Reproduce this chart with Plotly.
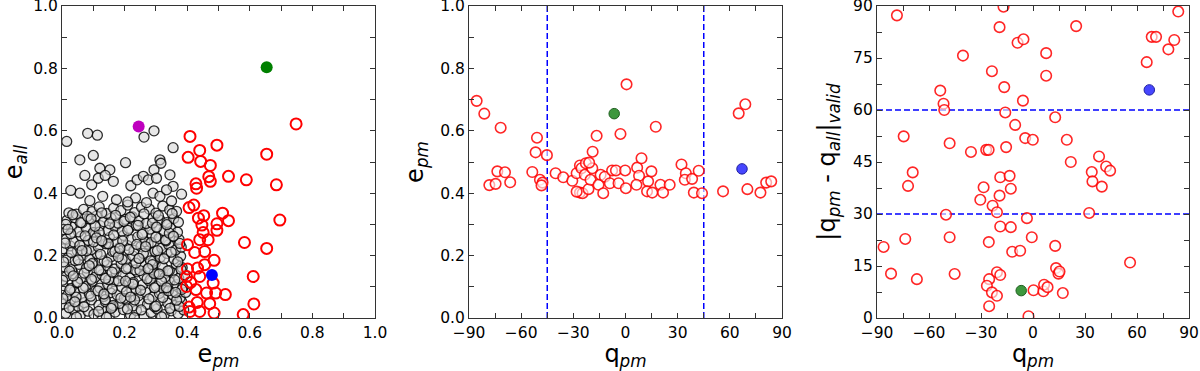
import plotly.graph_objects as go

# ---------------- Panel 1: e_all vs e_pm ----------------
# black (gray-faced) population: e_pm, e_all
blk_epm = [
    0.012,0.035,0.058,0.083,0.102,0.127,0.151,0.170,0.196,0.219,0.238,0.262,0.285,0.304,0.327,0.349,0.371,0.389,0.046,0.142,0.231,0.318,
    0.006,0.027,0.051,0.072,0.094,0.118,0.139,0.161,0.185,0.207,0.228,0.249,0.273,0.296,0.315,0.338,0.361,0.382,
    0.017,0.039,0.063,0.087,0.108,0.133,0.155,0.176,0.199,0.223,0.244,0.267,0.290,0.311,0.333,0.355,0.377,0.395,
    0.004,0.029,0.048,0.075,0.097,0.121,0.146,0.166,0.191,0.213,0.236,0.257,0.279,0.301,0.324,0.344,0.367,0.386,
    0.013,0.036,0.059,0.081,0.105,0.128,0.149,0.173,0.194,0.217,0.240,0.262,0.283,0.307,0.329,0.352,0.373,0.392,
    0.008,0.031,0.054,0.078,0.099,0.124,0.144,0.168,0.189,0.211,0.234,0.255,0.277,0.299,0.321,0.343,0.365,0.384,
    0.019,0.042,0.066,0.089,0.112,0.135,0.158,0.180,0.203,0.226,0.247,0.270,0.292,0.314,0.336,0.358,0.379,
    0.005,0.026,0.049,0.071,0.093,0.116,0.140,0.162,0.184,0.208,0.230,0.252,0.275,0.297,0.319,0.341,0.363,0.381,
    0.014,0.037,0.061,0.084,0.106,0.130,0.152,0.175,0.197,0.220,0.242,0.265,0.287,0.310,0.332,0.354,0.374,
    0.007,0.030,0.053,0.077,0.100,0.122,0.147,0.169,0.192,0.214,0.237,0.259,0.281,0.304,0.326,0.347,0.369,
    0.016,0.040,0.064,0.086,0.110,0.133,0.157,0.179,0.202,0.224,0.246,0.269,0.291,0.313,0.335,0.357,
    0.022,0.046,0.069,0.096,0.119,0.143,0.165,0.188,0.210,0.232,0.254,0.279,0.300,0.322,0.344,0.366,
    0.089,0.174,0.291,0.313,0.382,0.057,0.130,0.235,0.270,0.350,0.210,
    0.015,0.082,0.113,0.262,0.294,0.355,0.057,0.100,0.203,0.153,0.121,0.313,0.316,0.028,0.095,
    0.073,0.116,0.138,0.164,0.220,0.240,0.260,0.276,0.294,0.302,0.345,0.355,0.334,
    0.023,0.070,0.117,0.163,0.209,0.253,0.300,0.345,0.375,
    0.003,0.045,0.092,0.138,0.188,0.232,0.278,0.322,0.366,
    0.025,0.068,0.115,0.160,0.206,0.251,0.296,0.340,0.383,
    0.002,0.050,0.094,0.139,0.181,0.228,0.272,0.318,0.360,
    0.024,0.071,0.118,0.160,0.205,0.249,0.294,0.338,0.380,
    0.005,0.052,0.096,0.144,0.192,0.236,0.283,0.326,0.370,
    0.030,0.078,0.123,0.169,0.214,0.260,0.305,0.349,
    0.010,0.057,0.101,0.148,0.194,0.239,0.285,0.331,0.376,
    0.028,0.074,0.119,0.165,0.210,0.256,0.300,0.343,
    0.012,0.060,0.106,0.152,0.198,0.243,0.289,0.335,0.372,
    0.034,0.081,0.127,0.171,0.218,0.262,0.308,0.352,
    0.041,0.134,0.226,0.311,0.087,0.180,0.267,0.356,0.019,0.110,0.203,0.289,
    0.064,0.157,0.246,0.334,0.036,0.127,0.219,0.302,0.093,0.185,0.275,0.363,
]
blk_eall = [
    0.015,0.028,0.008,0.022,0.012,0.030,0.006,0.019,0.027,0.010,0.024,0.005,0.018,0.029,0.011,0.023,0.014,0.026,0.003,0.002,0.001,0.004,
    0.045,0.055,0.038,0.049,0.058,0.041,0.052,0.035,0.047,0.057,0.039,0.051,0.044,0.036,0.056,0.048,0.040,0.053,
    0.072,0.085,0.066,0.078,0.088,0.069,0.081,0.074,0.063,0.087,0.071,0.083,0.067,0.079,0.089,0.073,0.064,0.082,
    0.104,0.095,0.113,0.101,0.118,0.096,0.108,0.117,0.099,0.112,0.093,0.106,0.119,0.102,0.094,0.115,0.107,0.098,
    0.133,0.142,0.126,0.147,0.130,0.139,0.123,0.145,0.135,0.128,0.148,0.137,0.124,0.141,0.131,0.146,0.127,0.138,
    0.164,0.155,0.172,0.160,0.177,0.153,0.168,0.157,0.175,0.162,0.154,0.171,0.159,0.176,0.165,0.152,0.173,0.161,
    0.192,0.184,0.201,0.188,0.206,0.183,0.197,0.208,0.186,0.199,0.191,0.204,0.182,0.195,0.207,0.189,0.198,
    0.222,0.231,0.215,0.236,0.219,0.228,0.238,0.213,0.226,0.233,0.217,0.229,0.237,0.214,0.224,0.235,0.218,0.227,
    0.253,0.244,0.262,0.249,0.267,0.246,0.258,0.243,0.265,0.251,0.260,0.245,0.268,0.255,0.247,0.263,0.252,
    0.283,0.292,0.276,0.289,0.274,0.296,0.281,0.293,0.278,0.287,0.297,0.273,0.285,0.291,0.279,0.288,0.275,
    0.313,0.322,0.305,0.318,0.327,0.309,0.320,0.304,0.316,0.325,0.311,0.303,0.321,0.314,0.306,0.319,
    0.337,0.333,0.348,0.341,0.356,0.335,0.352,0.344,0.362,0.338,0.355,0.349,0.336,0.359,0.346,0.342,
    0.376,0.379,0.400,0.390,0.397,0.400,0.390,0.385,0.370,0.375,0.372,
    0.566,0.592,0.586,0.580,0.600,0.546,0.507,0.521,0.498,0.475,0.480,0.507,0.496,0.409,0.427,
    0.457,0.448,0.457,0.438,0.424,0.443,0.454,0.443,0.475,0.448,0.459,0.422,0.411,
    0.033,0.036,0.021,0.040,0.029,0.026,0.038,0.031,0.037,
    0.062,0.067,0.070,0.059,0.064,0.058,0.061,0.066,0.057,
    0.090,0.096,0.087,0.093,0.084,0.089,0.097,0.087,0.092,
    0.121,0.115,0.124,0.127,0.119,0.114,0.126,0.118,0.122,
    0.150,0.144,0.154,0.147,0.158,0.152,0.143,0.151,0.156,
    0.180,0.186,0.174,0.179,0.188,0.176,0.183,0.190,0.180,
    0.210,0.215,0.204,0.213,0.219,0.207,0.216,0.211,
    0.240,0.233,0.244,0.238,0.247,0.236,0.242,0.250,0.239,
    0.270,0.263,0.275,0.266,0.281,0.268,0.259,0.272,
    0.300,0.306,0.294,0.302,0.310,0.297,0.304,0.299,0.307,
    0.331,0.326,0.337,0.329,0.323,0.334,0.328,0.335,
    0.052,0.077,0.109,0.141,0.168,0.196,0.229,0.262,0.284,0.257,0.118,0.171,
    0.216,0.031,0.191,0.097,0.135,0.248,0.067,0.291,0.318,0.223,0.158,0.082,
]

# red selected population: e_pm, e_all
red_epm = [0.409,0.403,0.440,0.443,0.495,0.474,0.469,0.474,0.428,0.430,
           0.532,0.589,0.654,0.685,0.748,0.696,0.654,0.583,0.611,0.613,
           0.579,0.513,0.532,0.495,0.495,0.453,0.421,0.406,0.436,0.447,
           0.451,0.467,0.440,0.401,0.424,0.456,0.486,0.456,0.401,0.433,
           0.411,0.440,0.483,0.522,0.491,0.462,0.428,0.398,0.432,0.406,
           0.472,0.486,0.409,0.440,0.398]
red_eall = [0.582,0.515,0.537,0.502,0.554,0.489,0.453,0.438,0.430,0.416,
            0.454,0.443,0.525,0.427,0.622,0.314,0.223,0.242,0.133,0.045,
            0.011,0.336,0.312,0.302,0.281,0.328,0.362,0.354,0.320,0.298,
            0.274,0.251,0.251,0.235,0.210,0.213,0.185,0.171,0.157,0.160,
            0.114,0.133,0.112,0.075,0.080,0.080,0.091,0.101,0.050,0.035,
            0.046,0.016,0.021,0.021,0.133]

# special objects (magenta, green, blue)
mag_epm, mag_eall = [0.245], [0.614]
grn_epm, grn_eall = [0.654], [0.804]
blu_epm, blu_eall = [0.479], [0.138]

# ---------------- Panel 2: e_pm vs q_pm ----------------
mid_q = [-85.6,-81.2,-71.8,-78.3,-74.7,-73.7,-69.3,-66.3,-50.9,-51.7,
         -45.2,-53.6,-49.2,-47.7,-48.3,-40.2,-35.8,-30.6,-28.1,-26.2,
         -25.3,-22.8,-26.2,-24.7,-23.4,-21.3,-20.1,-19.1,-18.9,-16.6,
         -15.5,-14.3,-12.8,-11.9,-9.0,-7.7,-5.5,-4.0,-2.9,-0.2,
         0.2,0.6,6.7,7.8,6.3,9.2,13.0,14.9,12.4,15.4,
         17.4,20.1,21.6,25.4,32.2,34.7,34.1,38.3,39.3,42.1,
         44.0,56.1,65.1,68.9,70.1,77.6,80.9,83.8,-28.1,-20.9]
mid_e = [0.696,0.655,0.610,0.426,0.430,0.470,0.467,0.435,0.578,0.531,
         0.522,0.468,0.443,0.434,0.425,0.464,0.451,0.440,0.464,0.489,
         0.480,0.496,0.402,0.400,0.459,0.413,0.443,0.480,0.533,0.584,
         0.427,0.459,0.400,0.453,0.432,0.473,0.473,0.432,0.590,0.473,
         0.416,0.749,0.482,0.456,0.427,0.512,0.438,0.470,0.406,0.402,
         0.613,0.427,0.402,0.427,0.492,0.464,0.443,0.446,0.402,0.472,
         0.400,0.406,0.656,0.685,0.413,0.402,0.434,0.438,0.405,0.498]
mid_grn_q, mid_grn_e = [-6.5], [0.655]
mid_blu_q, mid_blu_e = [67.0], [0.478]
q_limits = [-45, 45]

# ---------------- Panel 3: |q_pm - q_all|_valid vs q_pm ----------------
rt_q = [-78.5,-86.2,-81.9,-74.6,-69.4,-72.1,-73.7,-67.0,-53.5,-51.6,
        -51.2,-50.2,-48.1,-48.1,-45.2,-40.4,-35.8,-30.4,-28.5,-27.0,
        -25.6,-25.5,-25.3,-26.6,-25.3,-23.7,-23.3,-23.7,-20.8,-20.8,
        -20.8,-18.9,-18.9,-19.3,-18.9,-19.3,-17.0,-16.6,-16.0,-15.5,
        -13.5,-12.8,-12.8,-12.0,-10.3,-8.9,-7.4,-5.8,-5.5,-4.5,
        -3.5,-2.6,-0.1,-0.7,0.3,6.0,6.4,8.4,7.6,7.6,
        12.8,13.3,14.7,15.3,12.8,17.2,19.5,21.8,24.9,32.4,
        33.9,34.3,38.1,39.7,42.2,44.5,56.0,65.6,68.5,71.0,
        78.1,81.5,83.8]
rt_d = [87.3,20.5,12.8,52.4,42.0,38.1,22.8,11.2,65.6,61.8,
        60.0,29.8,50.4,23.3,12.7,75.7,47.9,34.1,37.7,48.5,
        48.5,21.9,11.2,9.3,3.4,71.2,32.4,7.4,30.5,6.4,
        13.2,12.4,26.4,35.3,40.6,83.9,89.8,66.6,59.3,49.3,
        41.0,37.3,26.2,19.1,55.7,79.4,19.4,62.7,80.4,51.9,
        28.8,0.5,51.4,23.3,8.0,7.7,9.6,8.9,76.4,69.9,
        20.8,14.4,12.8,13.4,57.9,7.2,51.4,45.0,84.2,30.3,
        42.1,39.4,46.6,37.9,43.7,42.5,16.0,73.8,81.1,81.1,
        77.5,80.2,88.4]
rt_grn_q, rt_grn_d = [-6.8], [7.9]
rt_blu_q, rt_blu_d = [67.1], [65.8]
d_limits = [30, 60]

FONT = "DejaVu Sans"
AXC = "#333333"

fig = go.Figure()

# panel 1
fig.add_trace(go.Scatter(x=blk_epm, y=blk_eall, mode="markers", xaxis="x", yaxis="y",
    marker=dict(symbol="circle", size=10, color="rgba(215,215,215,0.6)",
                line=dict(color="rgba(0,0,0,0.82)", width=1.3)), showlegend=False))
fig.add_trace(go.Scatter(x=red_epm, y=red_eall, mode="markers", xaxis="x", yaxis="y",
    marker=dict(symbol="circle-open", size=11, color="red", line=dict(width=2)), showlegend=False))
fig.add_trace(go.Scatter(x=mag_epm, y=mag_eall, mode="markers", xaxis="x", yaxis="y",
    marker=dict(symbol="circle", size=12, color="#bf00bf"), showlegend=False))
fig.add_trace(go.Scatter(x=grn_epm, y=grn_eall, mode="markers", xaxis="x", yaxis="y",
    marker=dict(symbol="circle", size=12, color="#008000"), showlegend=False))
fig.add_trace(go.Scatter(x=blu_epm, y=blu_eall, mode="markers", xaxis="x", yaxis="y",
    marker=dict(symbol="circle", size=12, color="#0000ff"), showlegend=False))

# panel 2
fig.add_trace(go.Scatter(x=mid_q, y=mid_e, mode="markers", xaxis="x2", yaxis="y2",
    marker=dict(symbol="circle", size=10.5, color="rgba(255,255,255,0.6)",
                line=dict(color="rgba(255,0,0,0.85)", width=1.6)), showlegend=False))
fig.add_trace(go.Scatter(x=mid_grn_q, y=mid_grn_e, mode="markers", xaxis="x2", yaxis="y2",
    marker=dict(symbol="circle", size=10.5, color="rgba(40,140,40,0.9)",
                line=dict(color="#1f5f1f", width=1)), showlegend=False))
fig.add_trace(go.Scatter(x=mid_blu_q, y=mid_blu_e, mode="markers", xaxis="x2", yaxis="y2",
    marker=dict(symbol="circle", size=10.5, color="rgba(50,50,255,0.9)",
                line=dict(color="#2020a0", width=1)), showlegend=False))

# panel 3
fig.add_trace(go.Scatter(x=rt_q, y=rt_d, mode="markers", xaxis="x3", yaxis="y3",
    marker=dict(symbol="circle", size=10.5, color="rgba(255,255,255,0.6)",
                line=dict(color="rgba(255,0,0,0.85)", width=1.6)), showlegend=False))
fig.add_trace(go.Scatter(x=rt_grn_q, y=rt_grn_d, mode="markers", xaxis="x3", yaxis="y3",
    marker=dict(symbol="circle", size=10.5, color="rgba(40,140,40,0.9)",
                line=dict(color="#1f5f1f", width=1)), showlegend=False))
fig.add_trace(go.Scatter(x=rt_blu_q, y=rt_blu_d, mode="markers", xaxis="x3", yaxis="y3",
    marker=dict(symbol="circle", size=10.5, color="rgba(50,50,255,0.9)",
                line=dict(color="#2020a0", width=1)), showlegend=False))

shapes = []
for v in q_limits:
    shapes.append(dict(type="line", xref="x2", yref="y2 domain", x0=v, x1=v, y0=0, y1=1,
                       line=dict(color="blue", width=1.5, dash="6px,3px"), layer="below"))
for v in d_limits:
    shapes.append(dict(type="line", xref="x3 domain", yref="y3", x0=0, x1=1, y0=v, y1=v,
                       line=dict(color="blue", width=1.5, dash="6px,3px"), layer="below"))


def axis(domain, rng, dtick, mdtick, title, anchor, standoff, fmt=None, tick0=None):
    d = dict(domain=domain, range=rng, anchor=anchor, showline=True, mirror="allticks",
             linecolor=AXC, linewidth=1.2, ticks="inside", ticklen=5, tickwidth=1,
             tickcolor=AXC, dtick=dtick, showgrid=False, zeroline=False,
             ticklabeloverflow="allow",
             tickfont=dict(family=FONT, size=15.5, color="black"),
             minor=dict(dtick=mdtick, ticks="inside", ticklen=5, tickwidth=1, tickcolor=AXC, showgrid=False),
             title=dict(text=title, font=dict(family=FONT, size=24, color="black"), standoff=standoff),
             automargin=False)
    if fmt:
        d["tickformat"] = fmt
    if tick0 is not None:
        d["tick0"] = tick0
    return d

ydom = [53 / 371, 365 / 371]
fig.update_layout(
    width=1200, height=371,
    margin=dict(l=0, r=0, t=0, b=0),
    paper_bgcolor="white", plot_bgcolor="white",
    font=dict(family=FONT, color="black"),
    xaxis=axis([62 / 1200, 375 / 1200], [0, 1.0001], 0.2, 0.1, "e<sub><i>pm</i></sub>", "y", 9, ".1f", 0),
    yaxis=axis(ydom, [0, 1.0001], 0.2, 0.1, "e<sub><i>all</i></sub>", "x", 7, ".1f", 0),
    xaxis2=axis([469 / 1200, 782 / 1200], [-90, 90.001], 30, 15, "q<sub><i>pm</i></sub>", "y2", 9, None, -90),
    yaxis2=axis(ydom, [0, 1.0001], 0.2, 0.1, "e<sub><i>pm</i></sub>", "x2", 9, ".1f", 0),
    xaxis3=axis([877 / 1200, 1189 / 1200], [-90, 90.001], 30, 15, "q<sub><i>pm</i></sub>", "y3", 9, None, -90),
    yaxis3=axis(ydom, [0, 90.001], 15, 7.5, "|q<sub><i>pm</i></sub> - q<sub><i>all</i></sub>|<sub><i>valid</i></sub>", "x3", 10, None, 0),
    shapes=shapes,
)

fig.write_html("out.html", post_script="document.body.style.margin='0';",
               config={"displayModeBar": False})
